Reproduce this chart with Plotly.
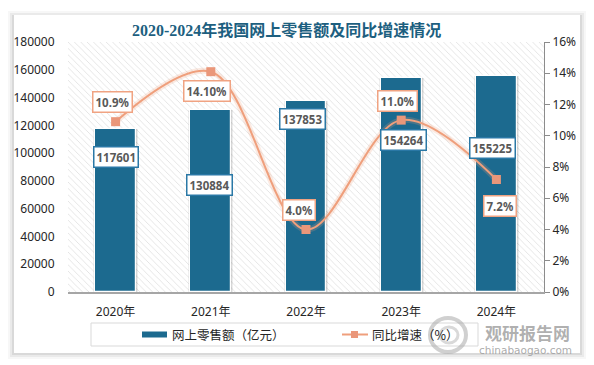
import plotly.graph_objects as go

# ---------------- data ----------------
years = ["2020年", "2021年", "2022年", "2023年", "2024年"]
sales = [117601, 130884, 137853, 154264, 155225]          # 网上零售额（亿元）
growth = [10.9, 14.1, 4.0, 11.0, 7.2]                      # 同比增速（%）
growth_labels = ["10.9%", "14.10%", "4.0%", "11.0%", "7.2%"]
left_ticks = [0, 20000, 40000, 60000, 80000, 100000, 120000, 140000, 160000, 180000]
right_ticks = [0, 2, 4, 6, 8, 10, 12, 14, 16]

# label placement offsets (pixels, relative to the data point)
sales_dy = [-28, -75, -18, -62, -72]
sales_dx = [0, -1, -4, 2, -4]
growth_dy = [20, -19, 20, 19, -26]
growth_dx = [-3, -4, -7, -4, 4]

# ---------------- geometry helpers (plot area in px) ----------------
W, H = 594, 365
PL, PR, PT, PB = 68, 544, 42, 292


def xp(px):
    return (px - PL) / (PR - PL)


def yp(py):
    return (PB - py) / (PB - PT)


BAR_COLOR = "#1c6a8f"
LINE_COLOR = "#ef9f7c"
MARK_COLOR = "#ea977a"
TXT = "#262626"
LBL = "#595959"

xs = list(range(len(years)))

fig = go.Figure()

# hatched plot-area background
fig.add_trace(go.Bar(
    x=[(len(years) - 1) / 2], y=[left_ticks[-1]], width=[len(years)],
    marker=dict(color="white", line=dict(width=0),
                pattern=dict(shape="\\", fgcolor="#c6c6c6", bgcolor="white",
                             size=4.5, solidity=0.2)),
    hoverinfo="skip", showlegend=False,
))

# bar shadows
fig.add_trace(go.Bar(
    x=xs, y=sales, width=0.47,
    marker=dict(color="rgba(0,0,0,0.07)", line=dict(width=0)),
    hoverinfo="skip", showlegend=False,
))
fig.add_trace(go.Bar(
    x=xs, y=sales, width=0.45,
    marker=dict(color="rgba(0,0,0,0.09)", line=dict(width=0)),
    hoverinfo="skip", showlegend=False,
))

# main bars
fig.add_trace(go.Bar(
    x=xs, y=sales, width=0.43, name="网上零售额（亿元）",
    marker=dict(color=BAR_COLOR, line=dict(color="white", width=1.2)),
    showlegend=False,
))

# growth line glow
fig.add_trace(go.Scatter(
    x=xs, y=[g / 100 for g in growth], yaxis="y2", mode="lines",
    line=dict(color="rgba(239,159,124,0.22)", width=6, shape="spline", smoothing=1.0),
    hoverinfo="skip", showlegend=False,
))
# growth line
fig.add_trace(go.Scatter(
    x=xs, y=[g / 100 for g in growth], yaxis="y2", mode="lines+markers",
    name="同比增速（%）",
    line=dict(color=LINE_COLOR, width=2, shape="spline", smoothing=1.0),
    marker=dict(symbol="square", size=9, color=MARK_COLOR),
    showlegend=False,
))

annotations = []

# bar value labels
for i, v in enumerate(sales):
    annotations.append(dict(
        x=i, y=v, xref="x", yref="y", text=f"<b>{v}</b>", showarrow=False,
        xshift=sales_dx[i], yshift=sales_dy[i],
        font=dict(family="Noto Sans, DejaVu Sans", size=11.5, color=LBL),
        bgcolor="white", bordercolor="#2a78a6", borderwidth=1.5, borderpad=2,
    ))

# growth labels
for i, g in enumerate(growth):
    annotations.append(dict(
        x=i, y=g / 100, xref="x", yref="y2", text=f"<b>{growth_labels[i]}</b>",
        showarrow=False, xshift=growth_dx[i], yshift=growth_dy[i],
        font=dict(family="Noto Sans, DejaVu Sans", size=11.5, color=LBL),
        bgcolor="white", bordercolor="#f0a382", borderwidth=1.5, borderpad=2,
    ))

# title
annotations.append(dict(
    x=xp(286), y=yp(30), xref="paper", yref="paper", showarrow=False,
    text="<b>2020-2024年我国网上零售额及同比增速情况</b>",
    font=dict(family="Liberation Serif, Noto Sans CJK SC", size=16, color="#1d5f7f"),
    xanchor="center", yanchor="middle",
))

# legend texts
annotations.append(dict(
    x=xp(170), y=yp(334.5), xref="paper", yref="paper", showarrow=False,
    text="网上零售额（亿元）", xanchor="left", yanchor="middle",
    font=dict(family="Noto Sans CJK SC", size=12.5, color=TXT),
))
annotations.append(dict(
    x=xp(370), y=yp(334.5), xref="paper", yref="paper", showarrow=False,
    text="同比增速（%）", xanchor="left", yanchor="middle",
    font=dict(family="Noto Sans CJK SC", size=12.5, color=TXT),
))

# watermark
annotations.append(dict(
    x=xp(527), y=yp(332), xref="paper", yref="paper", showarrow=False,
    text="<b>观研报告网</b>", xanchor="center", yanchor="middle",
    font=dict(family="Noto Sans CJK SC", size=17, color="rgba(150,150,150,0.75)"),
))
annotations.append(dict(
    x=xp(525), y=yp(350), xref="paper", yref="paper", showarrow=False,
    text="chinabaogao.com", xanchor="center", yanchor="middle",
    font=dict(family="DejaVu Sans", size=10.5, color="rgba(150,150,150,0.8)"),
))

shapes = []
# card shadow layers
for k, op in [(6, 0.03), (4, 0.05), (2, 0.07)]:
    shapes.append(dict(
        type="rect", xref="paper", yref="paper", layer="below",
        x0=xp(14 - k), x1=xp(580 + k), y0=yp(353 + k), y1=yp(15 - k + 2),
        fillcolor=f"rgba(0,0,0,{op})", line=dict(width=0),
    ))
# card
shapes.append(dict(
    type="rect", xref="paper", yref="paper", layer="below",
    x0=xp(14), x1=xp(580), y0=yp(353), y1=yp(15),
    fillcolor="white", line=dict(width=0),
))
# legend box
shapes.append(dict(
    type="rect", xref="paper", yref="paper", layer="below",
    x0=xp(91), x1=xp(478), y0=yp(346), y1=yp(323),
    fillcolor="white", line=dict(color="#d9d9d9", width=1),
))
# legend swatch: bar
shapes.append(dict(
    type="rect", xref="paper", yref="paper",
    x0=xp(142), x1=xp(167), y0=yp(337.5), y1=yp(331.5),
    fillcolor=BAR_COLOR, line=dict(width=0),
))
# legend swatch: line + marker
shapes.append(dict(
    type="line", xref="paper", yref="paper",
    x0=xp(342), x1=xp(368), y0=yp(334.5), y1=yp(334.5),
    line=dict(color=LINE_COLOR, width=2),
))
shapes.append(dict(
    type="rect", xref="paper", yref="paper",
    x0=xp(351), x1=xp(358), y0=yp(338), y1=yp(331),
    fillcolor=MARK_COLOR, line=dict(width=0),
))
# watermark logo swirl
shapes.append(dict(
    type="circle", xref="paper", yref="paper",
    x0=xp(430), x1=xp(466), y0=yp(352), y1=yp(318),
    line=dict(color="rgba(170,170,170,0.55)", width=4),
))
shapes.append(dict(
    type="circle", xref="paper", yref="paper",
    x0=xp(440), x1=xp(458), y0=yp(343), y1=yp(327),
    line=dict(color="rgba(170,170,170,0.45)", width=3),
))

fig.update_layout(
    width=W, height=H,
    margin=dict(l=PL, r=W - PR, t=PT, b=H - PB, pad=0),
    paper_bgcolor="white", plot_bgcolor="rgba(0,0,0,0)",
    barmode="overlay", bargap=0,
    showlegend=False,
    font=dict(family="Noto Sans, Noto Sans CJK SC", size=12, color=TXT),
    xaxis=dict(
        range=[-0.5, len(years) - 0.5], tickmode="array", tickvals=xs, ticktext=years,
        showgrid=False, zeroline=False, showline=True, linecolor="#a6a6a6", linewidth=1.5,
        ticks="outside", ticklen=8, tickcolor="rgba(0,0,0,0)",
        tickfont=dict(family="Noto Sans, Noto Sans CJK SC", size=12, color=TXT),
        fixedrange=True,
    ),
    yaxis=dict(
        range=[left_ticks[0], left_ticks[-1]], tickmode="array", tickvals=left_ticks,
        ticktext=[str(t) for t in left_ticks],
        showgrid=False, zeroline=False, showline=False,
        ticks="outside", ticklen=10, tickcolor="rgba(0,0,0,0)",
        tickfont=dict(family="Noto Sans", size=12, color=TXT),
    ),
    yaxis2=dict(
        overlaying="y", side="right",
        range=[right_ticks[0] / 100, right_ticks[-1] / 100], tickmode="array",
        tickvals=[t / 100 for t in right_ticks], ticktext=[f"{t}%" for t in right_ticks],
        showgrid=False, zeroline=False, showline=True, linecolor="#8c8c8c", linewidth=1,
        ticks="outside", ticklen=5, tickcolor="#8c8c8c",
        tickfont=dict(family="Noto Sans", size=12, color=TXT),
    ),
    annotations=annotations,
    shapes=shapes,
)

fig.write_html(
    "out.html",
    config={"displayModeBar": False},
    post_script="document.body.style.margin='0';document.body.style.overflow='hidden';",
)
